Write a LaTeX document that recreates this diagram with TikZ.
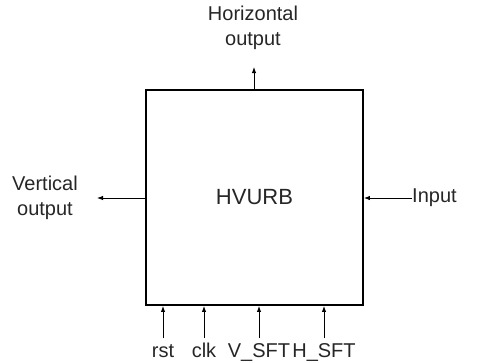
\documentclass[tikz,border=0pt]{standalone}
\usepackage{fontspec}
\setmainfont{Liberation Sans}
\usetikzlibrary{arrows.meta}
\begin{document}
\begin{tikzpicture}[x=1pt,y=-1pt,
  lbl/.style={font=\fontsize{20}{25}\selectfont, align=center, inner sep=0pt, text=black!85},
  blk/.style={draw, line width=1.8pt, minimum width=217pt, minimum height=215pt, inner sep=0pt, font=\fontsize{22}{26}\selectfont, text=black!85},
  arr/.style={-{Latex[length=6pt,width=4.5pt]}, line width=1pt}]
\useasboundingbox (0,0) rectangle (479,362);
\node[blk] (hv) at (254.5,197.5) {HVURB};
% top
\node[lbl] (ho) at (253,28) {Horizontal\\output};
\coordinate (hoe) at (254,67);
\draw[arr] (hv.north -| hoe) -- (hoe);
% left
\node[lbl] (vo) at (45,198) {Vertical\\output};
\coordinate (voe) at (97,198);
\draw[arr] (hv.west |- voe) -- (voe);
% right
\node[lbl, anchor=west] (in) at (412,198) {Input};
\draw[arr] (in.west) -- (hv.east |- in.west);
% bottom
\node[lbl, anchor=base] (rst) at (163,357) {rst};
\node[lbl, anchor=base] (clk) at (204,357) {clk};
\node[lbl, anchor=base] (vs) at (259,357) {V\_SFT};
\node[lbl, anchor=base] (hs) at (324,357) {H\_SFT};
\coordinate (rs0) at (163,338);
\coordinate (ck0) at (204,338);
\coordinate (vs0) at (259,338);
\coordinate (hs0) at (324,338);
\draw[arr] (rs0) -- (rs0 |- hv.south);
\draw[arr] (ck0) -- (ck0 |- hv.south);
\draw[arr] (vs0) -- (vs0 |- hv.south);
\draw[arr] (hs0) -- (hs0 |- hv.south);
\end{tikzpicture}
\end{document}
